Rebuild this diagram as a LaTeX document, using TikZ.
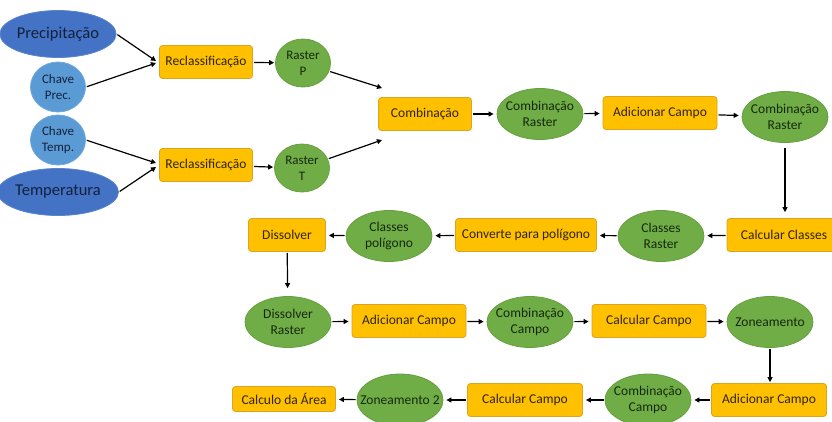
\documentclass[tikz,border=0pt]{standalone}
\usepackage{fontspec}
\setmainfont{Carlito}
\usetikzlibrary{shapes.geometric,arrows.meta}
\definecolor{boxfill}{HTML}{FFC000}
\definecolor{boxline}{HTML}{D9A520}
\definecolor{boxtext}{HTML}{2E2410}
\definecolor{gfill}{HTML}{70AD47}
\definecolor{gline}{HTML}{65A03F}
\definecolor{gtext}{HTML}{16280C}
\definecolor{dbfill}{HTML}{4472C4}
\definecolor{dbline}{HTML}{5A84CC}
\definecolor{lbfill}{HTML}{5B9BD5}
\definecolor{lbline}{HTML}{6FA8DC}
\definecolor{btext}{HTML}{14213D}
\begin{document}
\begin{tikzpicture}[x=1pt,y=-1pt,
  fs/.style={font=\fontsize{13.5}{16.5}\selectfont},
  box/.style={rectangle, rounded corners=3pt, draw=boxline, fill=boxfill, line width=0.8pt,
    minimum height=33pt, inner sep=0pt, fs, text=boxtext},
  gell/.style={ellipse, draw=gline, fill=gfill, line width=0.8pt, inner sep=0pt,
    minimum width=86pt, minimum height=51pt},
  lbl/.style={align=center, fs, text=gtext, inner sep=0pt},
  gnode/.style={gell, label={[lbl]center:#1}},
  bigblue/.style={ellipse, draw=dbline, fill=dbfill, line width=0.8pt, inner sep=0pt,
    minimum width=93pt, minimum height=47pt, font=\fontsize{16.5}{19}\selectfont, text=btext},
  smblue/.style={ellipse, draw=lbline, fill=lbfill, line width=0.8pt, inner sep=0pt,
    minimum width=55pt, minimum height=50pt, label={[align=center, inner sep=0pt,
    font=\fontsize{13}{16}\selectfont, text=btext]center:#1}},
  rast/.style={ellipse, draw=gline, fill=gfill, line width=0.8pt, inner sep=0pt,
    minimum width=55pt, minimum height=48pt, label={[align=center, inner sep=0pt,
    font=\fontsize{13}{16}\selectfont, text=gtext]center:#1}},
  arr/.style={-{Triangle[length=5pt,width=5pt]}, line width=1.2pt, black,
    shorten >=3pt, shorten <=1pt}
]
\useasboundingbox (0,0) rectangle (832,421);
% left inputs
\node[bigblue] (prec) at (58,34) {Precipitação};
\node[smblue={Chave\\Prec.}] (cprec) at (58,87) {};
\node[smblue={Chave\\Temp.}] (ctemp) at (58,140) {};
\node[bigblue] (temp) at (58,192) {Temperatura};
\node[box, minimum width=93pt] (recp) at (206,62) {Reclassificação};
\node[box, minimum width=93pt] (rect) at (206,165) {Reclassificação};
\node[rast={Raster\\P}] (rp) at (303,63) {};
\node[rast={Raster\\T}] (rt) at (302,168) {};
\coordinate (inp1) at (156,61);
\coordinate (inp2) at (156,63);
\coordinate (int1) at (156,163);
\coordinate (int2) at (156,167);
% row 1
\node[box, minimum width=93pt] (comb) at (425,114) {Combinação};
\coordinate (cin1) at (382,88);
\coordinate (cin2) at (382,140);
\node[gnode={Combinação\\Raster}] (cr1) at (540,114) {};
\node[box, minimum width=114pt] (add1) at (660,113) {Adicionar Campo};
\node[gnode={Combinação\\Raster}] (cr2) at (785,117) {};
% row 2
\node[box, minimum width=114pt] (calcc) at (784,235) {Calcular Classes};
\node[gnode={Classes\\Raster}] (clr) at (661,236) {};
\node[box, minimum width=141pt] (conv) at (526,235) {Converte para polígono};
\node[gnode={Classes\\polígono}] (clp) at (389,236) {};
\node[box, minimum width=77pt] (diss) at (287,235) {Dissolver};
% row 3
\node[gnode={Dissolver\\Raster}] (dr) at (288,322) {};
\node[box, minimum width=114pt] (add2) at (409,321) {Adicionar Campo};
\node[gnode={Combinação\\Campo}] (cc1) at (530,322) {};
\node[box, minimum width=114pt] (calc1) at (649,321) {Calcular Campo};
\node[gnode={Zoneamento}] (zon) at (770,322) {};
% row 4
\node[box, minimum width=115pt] (add3) at (769,400) {Adicionar Campo};
\node[gnode={Combinação\\Campo}, minimum height=52pt] (cc2) at (648,400) {};
\node[box, minimum width=115pt] (calc2) at (525,400) {Calcular Campo};
\node[gnode={Zoneamento 2}, minimum height=52pt] (zon2) at (400,400) {};
\node[box, minimum width=103pt, minimum height=25pt] (area) at (284,399) {Calculo da Área};
% connectors
\draw[arr, shorten >=0pt] (prec.east) -- (inp1);
\draw[arr, shorten >=0pt] (cprec.east) -- (inp2);
\draw[arr, shorten >=0pt] (ctemp.east) -- (int1);
\draw[arr, shorten >=0pt] (temp.east) -- (int2);
\draw[arr, shorten >=1pt] (recp) -- (rp);
\draw[arr, shorten >=1pt] (rect) -- (rt);
\draw[arr, shorten >=0pt] (rp) -- (cin1);
\draw[arr, shorten >=0pt] (rt) -- (cin2);
\draw[arr] (comb) -- (cr1);
\draw[arr] (cr1) -- (add1);
\draw[arr] (add1) -- (cr2);
\draw[arr, shorten <=5pt, shorten >=6pt] (cr2) -- (cr2 |- calcc.north);
\draw[arr] (calcc) -- (clr);
\draw[arr] (clr) -- (conv);
\draw[arr] (conv) -- (clp);
\draw[arr] (clp) -- (diss);
\draw[arr, shorten >=8pt] (diss) -- (dr);
\draw[arr] (dr) -- (add2);
\draw[arr] (add2) -- (cc1);
\draw[arr] (cc1) -- (calc1);
\draw[arr] (calc1) -- (zon);
\draw[arr, shorten >=1pt] (zon) -- (zon |- add3.north);
\draw[arr] (add3) -- (cc2);
\draw[arr] (cc2) -- (calc2);
\draw[arr] (calc2) -- (zon2);
\draw[arr] (zon2) -- (area);
\end{tikzpicture}
\end{document}
